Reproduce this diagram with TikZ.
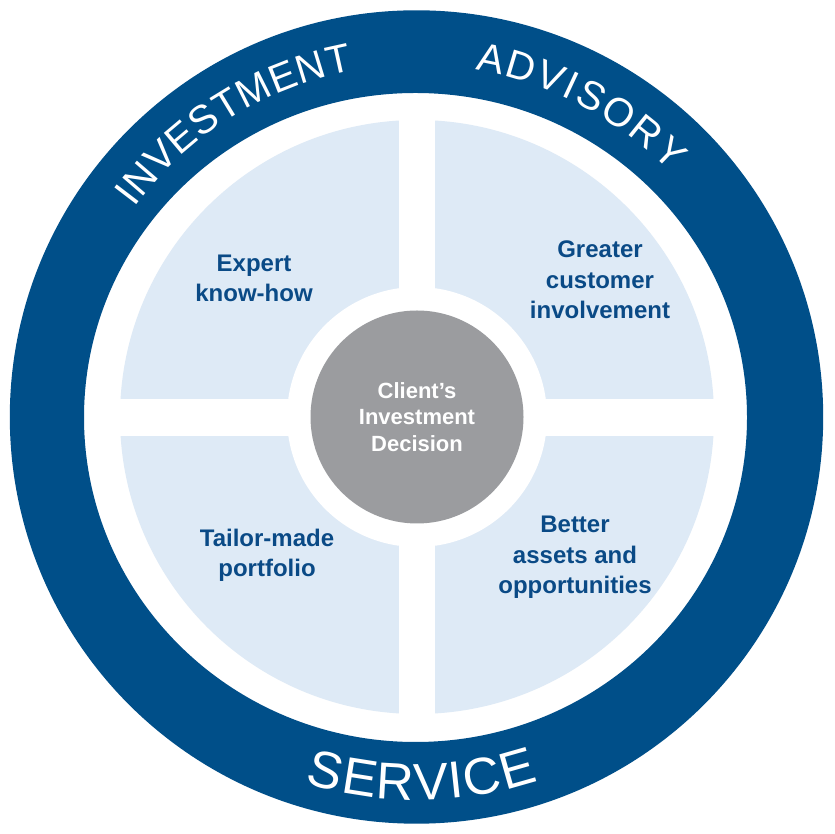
\documentclass[tikz,border=0pt]{standalone}
\usepackage{fontspec}
\setmainfont{Liberation Sans}
\usetikzlibrary{decorations.text}
\definecolor{ringblue}{HTML}{004F89}
\definecolor{textblue}{HTML}{0A4A86}
\definecolor{paleblue}{HTML}{DEEAF6}
\definecolor{coregray}{HTML}{9B9C9F}
\newcommand\ringfont{\fontsize{40}{40}\selectfont\color{white}}
\newcommand\bigringfont{\fontsize{52}{52}\selectfont\color{white}}
\tikzset{
  quadtext/.style={text=textblue, font=\bfseries\fontsize{24}{30.5}\selectfont,
    align=center, anchor=base, inner sep=0pt},
  coretext/.style={circle, fill=coregray, minimum size=213pt, inner sep=0pt,
    text=white, font=\bfseries\fontsize{22}{26.5}\selectfont, align=center},
  ringtext/.style={decorate, decoration={text along path, text={#1},
    text align=fit to path}}
}
\begin{document}
\begin{tikzpicture}[x=1pt,y=1pt]
\useasboundingbox (0,0) rectangle (834,834);
\fill[white] (0,0) rectangle (834,834);
\coordinate (O) at (417,417);
% outer ring
\fill[ringblue, even odd rule] (416.5,417) circle (406.7)
  (415.5,416.5) ellipse (331.5 and 324.5);
% quadrants
\fill[paleblue] (O) circle (297);
\fill[white] (399,117) rectangle (435,717);
\fill[white] (117,398) rectangle (717,435);
\fill[white] (O) circle (130);
% centre
\node[coretext] (core) at (O) {Client’s\\Investment\\Decision};
% quadrant labels (anchor = baseline of last line)
\node[quadtext] (expert) at (254,532) {Expert\\know-how};
\node[quadtext] (greater) at (600,515) {Greater\\customer\\involvement};
\node[quadtext] (tailor) at (267,257) {Tailor-made\\portfolio};
\node[quadtext] (better) at (575,240) {Better\\assets and\\opportunities};
% ring texts
\path[ringtext={|\ringfont|INVESTMENT}] (O) ++(143.5:352)
  arc[start angle=143.5, end angle=100.5, radius=352];
\path[ringtext={|\ringfont|ADVISORY}] (O) ++(80.5:352)
  arc[start angle=80.5, end angle=44, radius=352];
\path[ringtext={|\bigringfont|SERVICE}] (O) ++(253:383)
  arc[start angle=253, end angle=288.5, radius=383];
\end{tikzpicture}
\end{document}
